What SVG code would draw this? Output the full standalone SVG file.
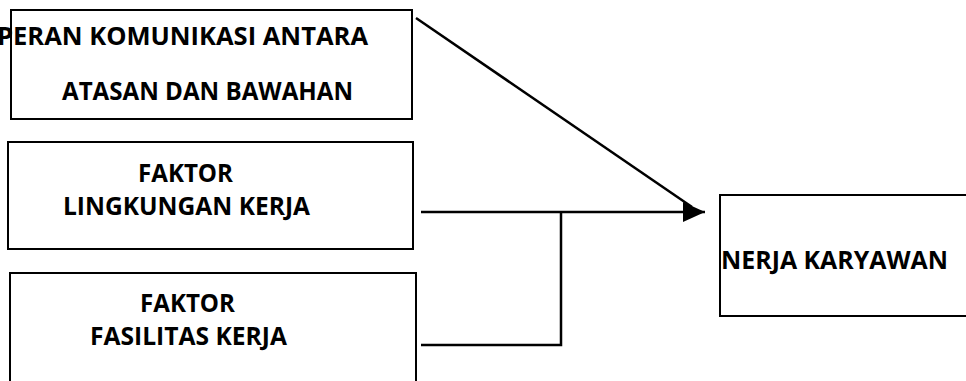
<svg xmlns="http://www.w3.org/2000/svg" width="966" height="381" viewBox="0 0 966 381">
<style>
.box{fill:#fff;stroke:#000;stroke-width:2}
.t{font-family:"Open Sans","Liberation Sans",sans-serif;font-weight:700;font-size:25px;fill:#000}
.c{fill:none;stroke:#000;stroke-width:2.5}
</style>
<defs>
<marker id="ah2" markerWidth="22" markerHeight="20" refX="22" refY="10" orient="auto" markerUnits="userSpaceOnUse" viewBox="0 0 22 20">
<path d="M0,0 L22,10 L0,20 z" fill="#000"/>
</marker>
</defs>
<g id="node-peran">
<rect class="box" x="11" y="10" width="401" height="109"/>
<text class="t" x="-3" y="45" textLength="371" lengthAdjust="spacingAndGlyphs">PERAN KOMUNIKASI ANTARA</text>
<text class="t" x="62" y="100" textLength="291" lengthAdjust="spacingAndGlyphs">ATASAN DAN BAWAHAN</text>
</g>
<g id="node-lingkungan">
<rect class="box" x="8" y="142" width="405" height="107"/>
<text class="t" x="138" y="182" textLength="95" lengthAdjust="spacingAndGlyphs">FAKTOR</text>
<text class="t" x="63" y="215" textLength="247" lengthAdjust="spacingAndGlyphs">LINGKUNGAN KERJA</text>
</g>
<g id="node-fasilitas">
<path class="box" d="M10,390 V273 H416 V390"/>
<text class="t" x="140" y="312" textLength="95" lengthAdjust="spacingAndGlyphs">FAKTOR</text>
<text class="t" x="90" y="345" textLength="197" lengthAdjust="spacingAndGlyphs">FASILITAS KERJA</text>
</g>
<g id="node-kinerja">
<rect class="box" x="720" y="195" width="260" height="121"/>
<text class="t" x="721" y="269" textLength="227" lengthAdjust="spacingAndGlyphs">NERJA KARYAWAN</text>
</g>
<g id="connectors">
<line class="c" x1="416" y1="18" x2="692" y2="207"/>
<line class="c" x1="421" y1="212" x2="705" y2="212" marker-end="url(#ah2)"/>
<polyline class="c" points="421,345 561,345 561,212"/>
</g>
</svg>
